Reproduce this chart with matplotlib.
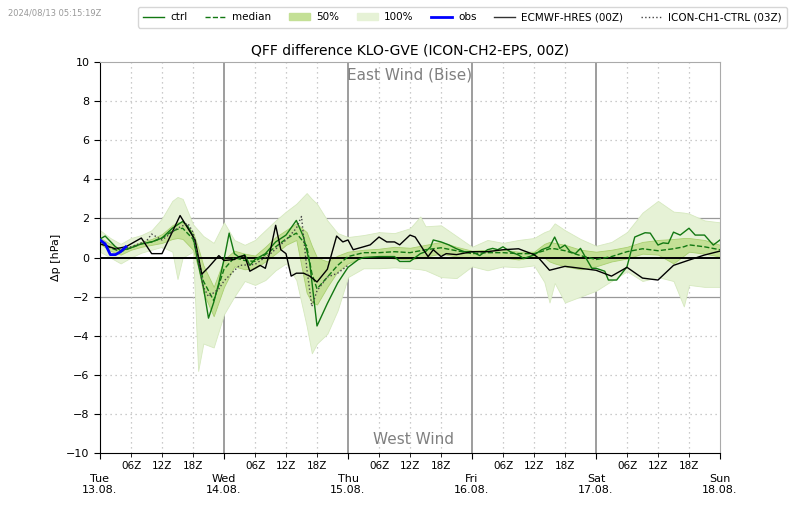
import matplotlib
matplotlib.use('Agg')
import matplotlib.pyplot as plt
from matplotlib.lines import Line2D
from matplotlib.patches import Patch


# ensemble statistics (hours since Tue 13.08. 00Z)
ens_hours = [0, 2, 4, 6, 8, 10, 12, 14, 15, 16, 18, 19, 20, 22, 24, 26, 28, 30, 32, 34,
             36, 38, 40, 41, 42, 44, 46, 48, 51, 54, 57, 60, 62, 63, 66, 69, 72, 75, 78,
             81, 84, 86, 87, 88, 90, 93, 96, 99, 102, 105, 108, 111, 113, 114, 117, 120]
ens_min = [0.3, 0.0, -0.3, 0.0, 0.25, 0.4, 0.55, 0.3, -1.1, 0.0, 0.3, -5.8, -4.4, -4.6,
           -2.9, -2.0, -1.2, -1.4, -1.15, -0.65, -0.3, -1.15, -3.5, -4.9, -4.4, -3.9, -2.7,
           -1.0, -0.55, -0.55, -0.5, -0.55, -0.6, -0.65, -1.0, -1.05, -0.45, -0.65, -0.45,
           -0.5, -0.4, -1.25, -2.3, -1.3, -2.3, -2.0, -1.7, -1.2, -0.7, -1.2, -1.0, -1.2,
           -2.5, -1.4, -1.5, -1.5]
ens_q25 = [0.7, 0.35, 0.15, 0.4, 0.55, 0.65, 0.75, 0.95, 1.0, 0.95, 0.4, -0.5, -1.8, -3.0,
           -1.5, -0.45, -0.6, -0.55, -0.2, 0.2, 0.65, 0.9, -1.8, -2.3, -2.4, -1.5, -0.7,
           -0.3, 0.05, 0.05, -0.05, -0.1, 0.0, 0.05, 0.2, 0.05, 0.0, 0.05, 0.0, -0.1, 0.05,
           0.0, -0.2, -0.3, -0.45, -0.6, -0.45, -0.2, -0.05, 0.2, 0.15, -0.3, 0.1, 0.3, 0.2,
           0.05]
ens_med = [0.85, 0.5, 0.3, 0.5, 0.7, 0.8, 1.0, 1.35, 1.45, 1.5, 0.95, 0.0, -1.2, -2.2,
           -0.6, 0.0, -0.15, -0.2, 0.15, 0.55, 0.95, 1.25, 0.6, -0.8, -1.6, -1.0, -0.4,
           0.05, 0.25, 0.25, 0.3, 0.25, 0.35, 0.4, 0.5, 0.35, 0.2, 0.25, 0.25, 0.2, 0.2,
           0.35, 0.45, 0.45, 0.35, 0.1, -0.1, 0.05, 0.3, 0.45, 0.35, 0.45, 0.55, 0.65, 0.55,
           0.4]
ens_q75 = [1.0, 0.7, 0.45, 0.6, 0.8, 0.95, 1.2, 1.65, 1.8, 1.8, 1.3, 0.5, -0.4, -1.5,
           -0.1, 0.35, 0.2, 0.1, 0.55, 1.05, 1.4, 1.75, 1.3, 0.6, 0.0, -0.2, 0.1,
           0.3, 0.4, 0.45, 0.55, 0.5, 0.6, 0.65, 0.8, 0.55, 0.35, 0.4, 0.4, 0.3, 0.3,
           0.7, 0.8, 0.75, 0.65, 0.4, 0.3, 0.4, 0.55, 0.8, 0.9, 0.95, 1.0, 1.0, 0.9, 0.65]
ens_max = [1.4, 1.0, 0.7, 1.0, 1.15, 1.4, 2.0, 2.9, 3.1, 3.0, 1.7, 1.4, 1.1, 0.75,
           1.8, 0.9, 0.65, 0.9, 1.4, 1.9, 2.35, 2.75, 3.3, 3.0, 2.75, 1.9, 1.25,
           1.05, 1.15, 1.3, 1.25, 1.5, 2.1, 1.6, 1.65, 1.1, 0.55, 0.9, 0.75, 0.9, 1.0,
           1.3, 1.4, 1.75, 1.4, 0.95, 0.6, 0.8, 1.3, 2.3, 2.9, 2.35, 2.3, 2.25, 1.9, 1.8]

ctrl_hours = [0, 1, 3, 4, 6, 8, 10, 12, 14, 16, 17, 18, 19, 20, 21, 22, 23, 24, 25, 26,
              27, 28, 29, 30, 32, 34, 36, 38, 39.4, 40.6, 42, 44, 46, 48, 50, 51, 54, 57,
              58, 60, 62, 63, 64, 64.5, 66, 67.5, 69, 70.5, 72, 73.5, 75, 76, 77, 78, 79.4,
              81, 82, 84, 85.5, 87, 88, 89, 90, 91, 92, 93, 94, 95.2, 96, 97.7, 98.4, 100,
              102, 103.5, 105.5, 106.5, 108, 109, 110, 111, 112.3, 114, 115.2, 117, 118.7,
              120]
ctrl_vals = [0.95, 1.1, 0.55, 0.35, 0.5, 0.7, 0.8, 1.0, 1.5, 1.85, 1.6, 1.1, -0.3, -1.5,
             -3.1, -2.3, -1.3, -0.1, 1.25, 0.2, 0.0, 0.15, -0.4, -0.1, 0.2, 0.8, 1.15, 1.9,
             1.05, -0.3, -3.5, -2.35, -1.3, -0.5, -0.1, 0.0, 0.05, 0.05, -0.2, -0.2, 0.2,
             0.3, 0.55, 0.9, 0.8, 0.65, 0.45, 0.3, 0.3, 0.1, 0.4, 0.47, 0.4, 0.55, 0.3,
             0.13, -0.05, 0.13, 0.4, 0.55, 1.05, 0.47, 0.64, 0.3, 0.2, 0.47, 0.0, -0.55,
             -0.55, -0.7, -1.15, -1.15, -0.47, 1.05, 1.27, 1.25, 0.64, 0.75, 0.72, 1.3,
             1.15, 1.5, 1.15, 1.15, 0.64, 0.9]

obs_hours = [0, 1, 2, 3, 4, 5]
obs_vals = [0.9, 0.7, 0.15, 0.15, 0.3, 0.55]

ecmwf_hours = [0, 3, 5, 8, 10, 12, 15.5, 18.4, 19.7, 21, 23, 24, 26, 27, 28, 29, 30, 31,
               32, 33, 34, 35, 36, 37, 38, 39.4, 40.6, 42, 44, 45.8, 47, 48, 49, 51, 52.3,
               54, 55.5, 57, 58, 60, 61, 62.6, 63.5, 64.5, 66, 67, 69, 72, 75, 78, 81, 84,
               85, 87, 90, 93, 96, 99, 102, 105, 108, 111, 114, 117, 120]
ecmwf_vals = [0.7, 0.45, 0.55, 1.0, 0.2, 0.2, 2.15, 0.9, -0.85, -0.5, 0.1, -0.15, -0.1,
              0.05, 0.1, -0.7, -0.55, -0.4, -0.55, 0.4, 1.65, 0.4, 0.2, -0.95, -0.8, -0.8,
              -0.95, -1.25, -0.6, 1.1, 0.8, 0.9, 0.4, 0.55, 0.65, 1.05, 0.8, 0.8, 0.65,
              1.15, 1.05, 0.4, 0.05, 0.4, 0.05, 0.2, 0.15, 0.3, 0.3, 0.4, 0.45, 0.15, -0.05,
              -0.65, -0.45, -0.55, -0.65, -0.95, -0.5, -1.05, -1.15, -0.4, -0.13, 0.13, 0.33]

ch1_hours = [3, 6, 9, 10, 12, 15, 17, 18, 20, 21, 23, 24, 27, 30, 33, 36, 38, 39, 40, 41,
             42, 44, 46, 48]
ch1_vals = [0.45, 0.55, 0.85, 1.2, 0.9, 1.5, 1.75, 1.3, -1.5, -2.0, -1.6, -1.2, -0.4,
            -0.35, 0.2, 0.9, 1.5, 2.1, -0.5, -2.5, -1.7, -1.0, -0.8, -0.4]

day_hours = [0, 24, 48, 72, 96, 120]
day_labels = ['Tue\n13.08.', 'Wed\n14.08.', 'Thu\n15.08.', 'Fri\n16.08.', 'Sat\n17.08.',
              'Sun\n18.08.']
hour_ticks = [h + d for d in [0, 24, 48, 72, 96] for h in (6, 12, 18)]
hour_labels = ['06Z', '12Z', '18Z'] * 5

c_full = '#e6f2d6'
c_half = '#c4e096'
c_green = '#127812'

fig = plt.figure(figsize=(8, 5.09), dpi=100)
ax = fig.add_axes([0.125, 0.11, 0.775, 0.768])

ax.fill_between(ens_hours, ens_min, ens_max, color=c_full, edgecolor='#d6e9bf', lw=0.6, zorder=1)
ax.fill_between(ens_hours, ens_q25, ens_q75, color=c_half, edgecolor='#a9d070', lw=0.6, zorder=2)
ax.plot(ens_hours, ens_med, color=c_green, ls='--', lw=1.0, zorder=4)
ax.plot(ctrl_hours, ctrl_vals, color=c_green, lw=1.0, zorder=5)
ax.plot(ecmwf_hours, ecmwf_vals, color='black', lw=1.0, zorder=5)
ax.plot(ch1_hours, ch1_vals, color='#444444', ls=':', lw=1.0, zorder=5)
ax.plot(obs_hours, obs_vals, color='blue', lw=2.0, zorder=6)

# grid
for y in range(-8, 9, 2):
    if y == 0:
        continue
    if abs(y) == 2:
        ax.axhline(y, color='#999999', lw=0.9, zorder=0)
    else:
        ax.axhline(y, color='#bbbbbb', lw=0.9, ls=(0, (1, 3)), zorder=0)
for h in hour_ticks:
    ax.axvline(h, color='#bbbbbb', lw=0.9, ls=(0, (1, 3)), zorder=0)
for h in day_hours[1:-1]:
    ax.axvline(h, color='#8c8c8c', lw=1.2, zorder=0)
ax.axhline(0, color='black', lw=1.4, zorder=3)

ax.set_xlim(0, 120)
ax.set_ylim(-10, 10)
ax.set_yticks(range(-10, 11, 2))
ax.set_yticklabels([str(v).replace('-', '\u2212') for v in range(-10, 11, 2)])
ax.tick_params(axis='y', labelsize=8, length=4)
ax.set_ylabel('\u0394p [hPa]', fontsize=8)

ax.set_xticks(day_hours)
ax.set_xticklabels(day_labels, fontsize=8, linespacing=1.15)
ax.set_xticks(hour_ticks, minor=True)
ax.set_xticklabels(hour_labels, minor=True, fontsize=7.5)
ax.tick_params(axis='x', which='major', length=4, pad=11)
ax.tick_params(axis='x', which='minor', length=3, pad=3)

for s in ['top', 'right']:
    ax.spines[s].set_color('#aaaaaa')

ax.set_title('QFF difference KLO-GVE (ICON-CH2-EPS, 00Z)', fontsize=10, pad=5)
ax.text(0.5, 0.985, 'East Wind (Bise)', transform=ax.transAxes, ha='center', va='top',
        fontsize=11, color='#808080')
ax.text(0.505, 0.015, 'West Wind', transform=ax.transAxes, ha='center', va='bottom',
        fontsize=11, color='#808080')

fig.text(0.01, 0.975, '2024/08/13 05:15:19Z', fontsize=6, color='#999999', va='center')

handles = [
    Line2D([], [], color=c_green, lw=1.0),
    Line2D([], [], color=c_green, lw=1.0, ls='--'),
    Patch(color=c_half),
    Patch(color=c_full),
    Line2D([], [], color='blue', lw=2.0),
    Line2D([], [], color='#333333', lw=1.0),
    Line2D([], [], color='#444444', lw=1.0, ls=':'),
]
labels = ['ctrl', 'median', '50%', '100%', 'obs', 'ECMWF-HRES (00Z)', 'ICON-CH1-CTRL (03Z)']
fig.legend(handles, labels, loc='center', bbox_to_anchor=(0.578, 0.966), ncol=7,
           fontsize=7.5, handlelength=2.0, columnspacing=1.7, handletextpad=0.6,
           frameon=True, borderpad=0.5)

fig.savefig('out.png', dpi=100)
